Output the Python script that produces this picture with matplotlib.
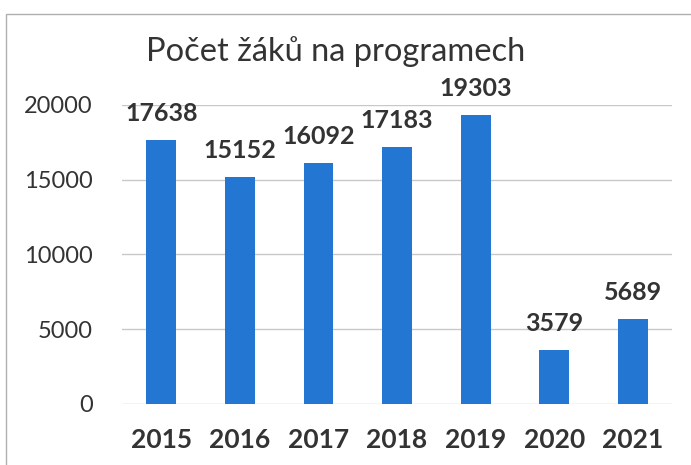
import matplotlib
matplotlib.use("Agg")
import matplotlib.pyplot as plt
from matplotlib.patches import Rectangle

years = ["2015", "2016", "2017", "2018", "2019", "2020", "2021"]
values = [17638, 15152, 16092, 17183, 19303, 3579, 5689]
yticks = [0, 5000, 10000, 15000, 20000]
title = "Počet žáků na programech"

plt.rcParams['font.family'] = ['Lato', 'DejaVu Sans']

fig = plt.figure(figsize=(6.91, 4.65), dpi=100)
fig.patches.append(Rectangle((6/691, -0.1), 1.0, 1 - 14/465 + 0.1, transform=fig.transFigure,
                             fill=False, edgecolor='#b0b0b0', linewidth=1.0))
ax = fig.add_axes([122/691, 1 - 404/465, 550/691, 299/465])

x = range(len(years))
ax.bar(x, values, width=0.38, color='#2377d3', zorder=3)
for i, v in enumerate(values):
    ax.annotate(str(v), (i, v), xytext=(0, 11), textcoords='offset points',
                ha='center', va='bottom', fontsize=18, fontweight='bold', color='#333333')

ax.set_ylim(0, 20000)
ax.set_xlim(-0.5, len(years) - 0.5)
ax.set_yticks(yticks)
ax.set_yticklabels([str(t) for t in yticks], fontsize=17, color='#333333')
ax.set_xticks(list(x))
ax.set_xticklabels(years, fontsize=19, fontweight='bold', color='#333333')
ax.tick_params(axis='both', length=0)
ax.tick_params(axis='y', pad=21)
ax.tick_params(axis='x', pad=17)
ax.yaxis.grid(True, color='#c8c8c8', linewidth=1.0, zorder=0)
for s in ['top', 'right', 'left', 'bottom']:
    ax.spines[s].set_visible(False)

fig.text(336/691, 1 - 52/465, title, ha='center', va='center', fontsize=23.5, color='#333333')

fig.savefig("out.png", dpi=100)
